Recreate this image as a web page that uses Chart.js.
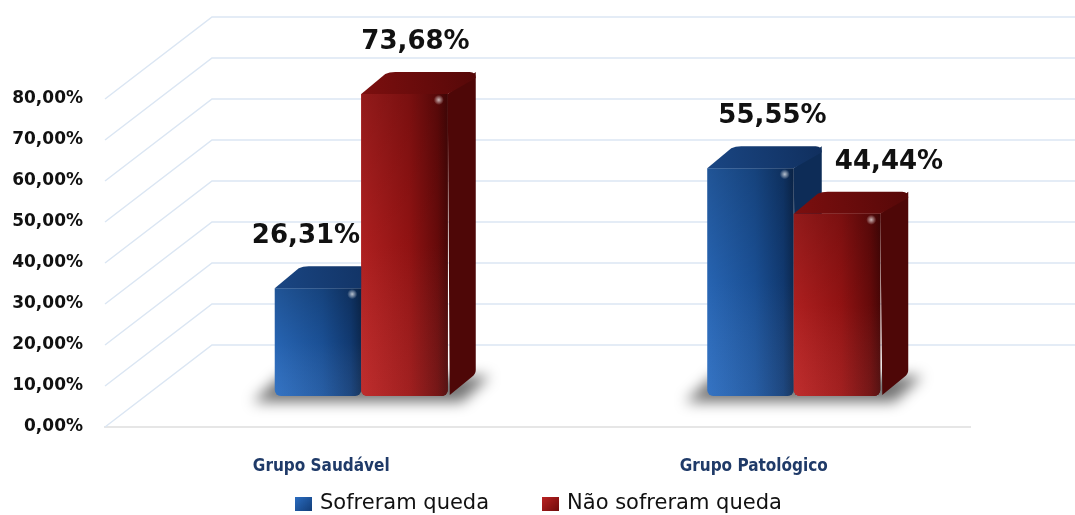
<!DOCTYPE html>
<html>
<head>
<meta charset="utf-8">
<script src="https://cdn.jsdelivr.net/npm/chart.js@4.4.1/dist/chart.umd.min.js"></script>
<style>
  html, body { margin: 0; padding: 0; background: #ffffff; }
  #wrap { position: relative; width: 1075px; height: 515px; overflow: hidden; }
  #c { position: absolute; left: 0; top: 0; }
  #legend { position: absolute; left: 295px; top: 490px; height: 24px; display: flex; align-items: center;
            font-family: "DejaVu Sans", sans-serif; font-size: 21px; color: #111; white-space: nowrap; }
  .item { display: flex; align-items: center; }
  .item + .item { margin-left: 53px; }
  .box { width: 17px; height: 14px; margin-right: 8px; margin-top: 4px; }
</style>
</head>
<body>
<div id="wrap">
  <canvas id="c" width="1075" height="515"></canvas>
  <div id="legend"></div>
</div>
<script>
// ---- data ----
const categories = ['Grupo Saudável', 'Grupo Patológico'];
const sofreramQueda = [26.31, 55.55];
const naoSofreramQueda = [73.68, 44.44];
const seriesNames = ['Sofreram queda', 'Não sofreram queda'];
const yTickValues = [0, 10, 20, 30, 40, 50, 60, 70, 80];

// ---- styling constants ----
const CAT_PCT = 0.4;
const WALL_DX = 107, WALL_DY = 82;   // back wall offset
const BAR_DX = 40, BAR_DY = 31;      // bars sit a bit behind the front plane
const DEPTH_DX = 28, DEPTH_DY = 22;  // bar depth
const LABEL_NUDGE = [[-12, 22], [11, 52]]; // per dataset, per category (px)

const palette = [
  { light: '#2a6cc0', mid: '#1c559f', dark: '#123d78', side: '#0d2c57', top1: '#1a4683', top2: '#102f5e', solid: '#1f5aa6' },
  { light: '#bb2222', mid: '#9c1414', dark: '#6e0b0b', side: '#4e0707', top1: '#7c0f0f', top2: '#560808', solid: '#a31c1c' }
];

function fmt(v) { return v.toFixed(2).replace('.', ',') + '%'; }

function frontColor(c) {
  const ds = c.datasetIndex;
  const p = palette[ds];
  const chart = c.chart;
  const area = chart.chartArea;
  if (c.type !== 'data' || !area) return p.solid;
  const center = chart.scales.x.getPixelForValue(c.dataIndex);
  const catW = (area.right - area.left) / categories.length;
  const bw = catW * CAT_PCT / 2;
  const left = ds === 0 ? center - bw : center;
  const g = chart.ctx.createLinearGradient(left, 0, left + bw, 0);
  g.addColorStop(0, p.light);
  g.addColorStop(0.55, p.mid);
  g.addColorStop(0.88, p.dark);
  g.addColorStop(1, p.side);
  return g;
}

// legend (HTML)
const legendEl = document.getElementById('legend');
seriesNames.forEach((name, i) => {
  const it = document.createElement('div'); it.className = 'item';
  const b = document.createElement('div'); b.className = 'box';
  b.style.background = 'linear-gradient(135deg,' + palette[i].light + ',' + palette[i].dark + ')';
  const t = document.createElement('span'); t.textContent = name;
  it.appendChild(b); it.appendChild(t); legendEl.appendChild(it);
});

function drawFaces(ctx, el, ds) {
  const p = palette[ds];
  const l = el.x - el.width / 2, r = el.x + el.width / 2, t = el.y, b = el.base;
  const vg = ctx.createLinearGradient(0, t, 0, b);
  vg.addColorStop(0, 'rgba(0,0,0,0.22)');
  vg.addColorStop(0.5, 'rgba(0,0,0,0.08)');
  vg.addColorStop(1, 'rgba(255,255,255,0.05)');
  ctx.fillStyle = vg;
  ctx.beginPath();
  ctx.roundRect(l, t, r - l, b - t, [0, 0, 6, 6]);
  ctx.fill();
  // side face
  ctx.fillStyle = p.side;
  ctx.beginPath();
  ctx.moveTo(r, t);
  ctx.lineTo(r + DEPTH_DX, t - DEPTH_DY);
  ctx.lineTo(r + DEPTH_DX, b - DEPTH_DY - 4);
  ctx.quadraticCurveTo(r + DEPTH_DX, b - DEPTH_DY, r + DEPTH_DX - 4, b - DEPTH_DY + 3);
  ctx.lineTo(r + 2, b - 1);
  ctx.closePath();
  ctx.fill();
  // top face
  const tg = ctx.createLinearGradient(l, t, r + DEPTH_DX, t - DEPTH_DY);
  tg.addColorStop(0, p.top1);
  tg.addColorStop(1, p.top2);
  ctx.fillStyle = tg;
  ctx.beginPath();
  ctx.moveTo(l, t);
  ctx.lineTo(l + DEPTH_DX - 4, t - DEPTH_DY + 2);
  ctx.quadraticCurveTo(l + DEPTH_DX, t - DEPTH_DY, l + DEPTH_DX + 6, t - DEPTH_DY);
  ctx.lineTo(r + DEPTH_DX - 6, t - DEPTH_DY);
  ctx.quadraticCurveTo(r + DEPTH_DX, t - DEPTH_DY, r + DEPTH_DX, t - DEPTH_DY + 6);
  ctx.lineTo(r, t);
  ctx.closePath();
  ctx.fill();
}

function drawGlint(ctx, el) {
  const gx = el.x + el.width / 2 - 9, gy = el.y + 6;
  const rg = ctx.createRadialGradient(gx, gy, 0, gx, gy, 5);
  rg.addColorStop(0, 'rgba(255,255,255,0.7)');
  rg.addColorStop(1, 'rgba(255,255,255,0)');
  ctx.fillStyle = rg;
  ctx.fillRect(gx - 6, gy - 6, 12, 12);
}

const plot3d = {
  id: 'plot3d',
  beforeDatasetsDraw(chart) {
    const { ctx, chartArea: a, scales: { y } } = chart;
    ctx.save();
    ctx.strokeStyle = '#dbe6f3';
    ctx.lineWidth = 1.5;
    yTickValues.forEach(v => {
      const p = y.getPixelForValue(v);
      ctx.beginPath();
      ctx.moveTo(a.left, p);
      ctx.lineTo(a.left + WALL_DX, p - WALL_DY);
      ctx.lineTo(a.right + WALL_DX, p - WALL_DY);
      ctx.stroke();
    });
    ctx.restore();
    ctx.save();
    ctx.translate(BAR_DX, -BAR_DY);
    const m0 = chart.getDatasetMeta(0), m1 = chart.getDatasetMeta(1);
    ctx.save();
    ctx.filter = 'blur(7px)';
    ctx.fillStyle = 'rgba(0,0,0,0.55)';
    categories.forEach((_, i) => {
      const bEl = m0.data[i], rEl = m1.data[i];
      const l = bEl.x - bEl.width / 2 - 22, r = rEl.x + rEl.width / 2 + 14;
      const base = bEl.base;
      ctx.beginPath();
      ctx.moveTo(l, base + 6);
      ctx.lineTo(l + DEPTH_DX, base - DEPTH_DY + 2);
      ctx.lineTo(r + DEPTH_DX, base - DEPTH_DY + 2);
      ctx.lineTo(r, base + 6);
      ctx.closePath();
      ctx.fill();
    });
    ctx.restore();
  },
  afterDatasetsDraw(chart) {
    const { ctx } = chart;
    const m0 = chart.getDatasetMeta(0), m1 = chart.getDatasetMeta(1);
    categories.forEach((_, i) => {
      const bEl = m0.data[i], rEl = m1.data[i];
      drawFaces(ctx, bEl, 0);
      rEl.draw(ctx, chart.chartArea);
      drawFaces(ctx, rEl, 1);
      drawGlint(ctx, bEl);
      drawGlint(ctx, rEl);
    });
    ctx.restore();
  },
  afterDraw(chart) {
    const { ctx } = chart;
    ctx.save();
    ctx.font = 'bold 26px "DejaVu Sans", sans-serif';
    ctx.fillStyle = '#111111';
    ctx.textAlign = 'center';
    ctx.textBaseline = 'middle';
    [0, 1].forEach(ds => {
      const meta = chart.getDatasetMeta(ds);
      const vals = chart.data.datasets[ds].data;
      meta.data.forEach((el, i) => {
        const x = el.x + BAR_DX + LABEL_NUDGE[ds][i];
        const yy = el.y - BAR_DY - 52;
        ctx.fillText(fmt(vals[i]), x, yy);
      });
    });
    ctx.restore();
  }
};

new Chart(document.getElementById('c'), {
  type: 'bar',
  data: {
    labels: categories,
    datasets: [
      { label: seriesNames[0], data: sofreramQueda, backgroundColor: frontColor,
        borderSkipped: false, borderRadius: { topLeft: 0, topRight: 0, bottomLeft: 6, bottomRight: 6 }, clip: false },
      { label: seriesNames[1], data: naoSofreramQueda, backgroundColor: frontColor,
        borderSkipped: false, borderRadius: { topLeft: 0, topRight: 0, bottomLeft: 6, bottomRight: 6 }, clip: false }
    ]
  },
  options: {
    responsive: false,
    animation: false,
    devicePixelRatio: 1,
    categoryPercentage: CAT_PCT,
    barPercentage: 1.0,
    layout: { padding: { top: 99, right: 105, bottom: 40, left: 12 } },
    plugins: { legend: { display: false }, tooltip: { enabled: false } },
    scales: {
      y: {
        min: 0, max: 80,
        afterBuildTicks: (s) => { s.ticks = yTickValues.map(v => ({ value: v })); },
        afterFit: (s) => { s.width = 93; },
        grid: { display: false, drawTicks: false },
        border: { display: false },
        ticks: {
          padding: 22,
          color: '#111111',
          font: { family: '"DejaVu Sans", sans-serif', size: 17, weight: 'bold' },
          callback: (v) => fmt(v)
        }
      },
      x: {
        afterFit: (s) => { s.height = 48; },
        grid: { display: false, drawTicks: false },
        border: { display: true, color: '#e6e6e6', width: 2 },
        ticks: {
          padding: 29,
          color: '#1f3a68',
          font: { family: '"Liberation Sans Narrow", "DejaVu Sans Condensed", sans-serif', size: 17, weight: 'bold' }
        }
      }
    }
  },
  plugins: [plot3d]
});
</script>
</body>
</html>
